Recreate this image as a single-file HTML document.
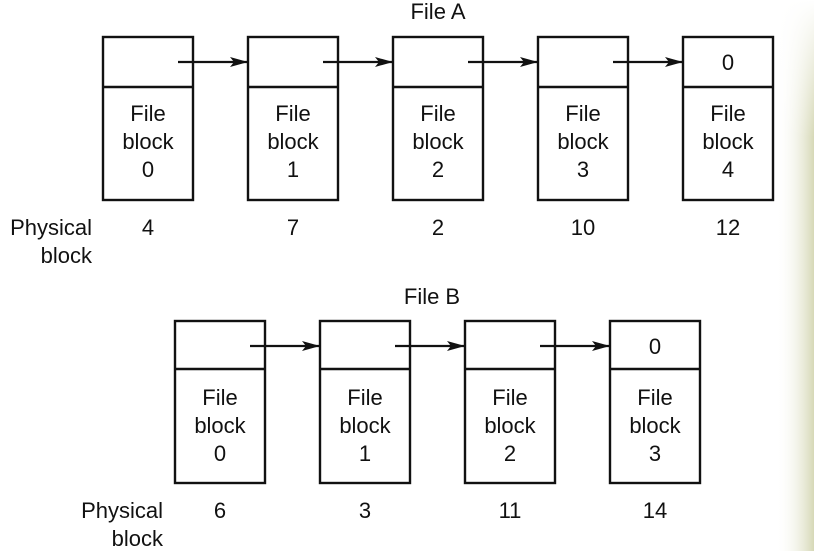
<!DOCTYPE html>
<html><head><style>
html,body{margin:0;padding:0;background:#fff;}
body{width:814px;height:551px;overflow:hidden;position:relative;}
svg{position:absolute;left:0;top:0;}
text{font-family:"Liberation Sans",Arial,sans-serif;font-size:22px;fill:#111;}
</style></head><body>
<svg width="814" height="551" viewBox="0 0 814 551">
<defs>
<linearGradient id="bg" x1="0" y1="0" x2="1" y2="0">
<stop offset="0" stop-color="#fff" stop-opacity="0"/>
<stop offset="1" stop-color="#d6d8b6"/>
</linearGradient>
<linearGradient id="fade" x1="0" y1="0" x2="0" y2="1">
<stop offset="0" stop-color="#fff"/>
<stop offset="0.25" stop-color="#fff" stop-opacity="0"/>
</linearGradient>
<marker id="ah" markerWidth="18" markerHeight="10" refX="17" refY="5" orient="auto" markerUnits="userSpaceOnUse">
<path d="M0,0 L18,5 L0,10 L4,5 Z" fill="#111"/>
</marker>
</defs>
<rect x="776" y="0" width="38" height="551" fill="url(#bg)"/>
<rect x="776" y="0" width="38" height="551" fill="url(#fade)"/>
<g stroke="#111" stroke-width="2.4" fill="#fff">
<rect x="103" y="37" width="90" height="163"/><line x1="103" y1="87" x2="193" y2="87"/>
<rect x="248" y="37" width="90" height="163"/><line x1="248" y1="87" x2="338" y2="87"/>
<rect x="393" y="37" width="90" height="163"/><line x1="393" y1="87" x2="483" y2="87"/>
<rect x="538" y="37" width="90" height="163"/><line x1="538" y1="87" x2="628" y2="87"/>
<rect x="683" y="37" width="90" height="163"/><line x1="683" y1="87" x2="773" y2="87"/>
<rect x="175" y="321" width="90" height="162"/><line x1="175" y1="369" x2="265" y2="369"/>
<rect x="320" y="321" width="90" height="162"/><line x1="320" y1="369" x2="410" y2="369"/>
<rect x="465" y="321" width="90" height="162"/><line x1="465" y1="369" x2="555" y2="369"/>
<rect x="610" y="321" width="90" height="162"/><line x1="610" y1="369" x2="700" y2="369"/>
</g>
<g stroke="#111" stroke-width="2.2" marker-end="url(#ah)">
<line x1="178" y1="62" x2="247" y2="62"/>
<line x1="323" y1="62" x2="392" y2="62"/>
<line x1="468" y1="62" x2="537" y2="62"/>
<line x1="613" y1="62" x2="682" y2="62"/>
<line x1="250" y1="346" x2="319" y2="346"/>
<line x1="395" y1="346" x2="464" y2="346"/>
<line x1="540" y1="346" x2="609" y2="346"/>
</g>
<g text-anchor="middle">
<text x="438" y="19">File A</text>
<text x="728" y="70">0</text>
<text x="148" y="121">File</text><text x="148" y="149">block</text><text x="148" y="177">0</text>
<text x="293" y="121">File</text><text x="293" y="149">block</text><text x="293" y="177">1</text>
<text x="438" y="121">File</text><text x="438" y="149">block</text><text x="438" y="177">2</text>
<text x="583" y="121">File</text><text x="583" y="149">block</text><text x="583" y="177">3</text>
<text x="728" y="121">File</text><text x="728" y="149">block</text><text x="728" y="177">4</text>
<text x="148" y="235">4</text><text x="293" y="235">7</text><text x="438" y="235">2</text><text x="583" y="235">10</text><text x="728" y="235">12</text>
<text x="432" y="304">File B</text>
<text x="655" y="354">0</text>
<text x="220" y="405">File</text><text x="220" y="433">block</text><text x="220" y="461">0</text>
<text x="365" y="405">File</text><text x="365" y="433">block</text><text x="365" y="461">1</text>
<text x="510" y="405">File</text><text x="510" y="433">block</text><text x="510" y="461">2</text>
<text x="655" y="405">File</text><text x="655" y="433">block</text><text x="655" y="461">3</text>
<text x="220" y="518">6</text><text x="365" y="518">3</text><text x="510" y="518">11</text><text x="655" y="518">14</text>
</g>
<g text-anchor="end">
<text x="92" y="235">Physical</text><text x="92" y="263">block</text>
<text x="163" y="518">Physical</text><text x="163" y="546">block</text>
</g>
</svg>
</body></html>
